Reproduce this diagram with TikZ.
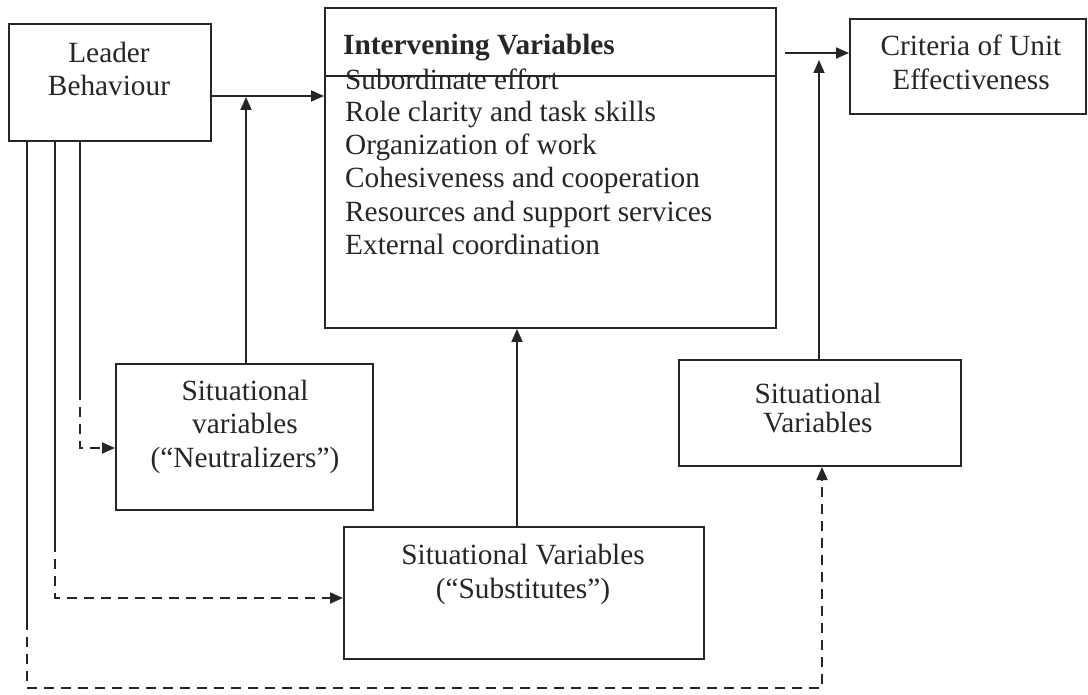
\documentclass[tikz,border=0pt]{standalone}
\usepackage{fontspec}
\setmainfont{Liberation Serif}
\usetikzlibrary{arrows.meta}
\definecolor{ink}{gray}{0.15}
\begin{document}
\begin{tikzpicture}[x=1pt,y=-1pt,
  box/.style={draw=ink, line width=2pt, inner sep=0pt, anchor=north west},
  lbl/.style={text=ink, inner sep=0pt, anchor=base, font=\fontsize{29.3}{33}\selectfont},
  lbll/.style={lbl, anchor=base west},
  conn/.style={draw=ink, line width=1.8pt},
  arr/.style={conn, -{Triangle[length=13pt,width=11pt]}},
  dsh/.style={dash pattern=on 10pt off 7pt}]
\useasboundingbox[fill=white] (0,0) rectangle (1088,695);

% boxes
\node[box, minimum width=202, minimum height=117] (leader) at (8,23) {};
\node[box, minimum width=451, minimum height=320] (interv) at (324,7) {};
\node[box, minimum width=236, minimum height=95] (crit) at (849,18) {};
\node[box, minimum width=257, minimum height=146] (neut) at (115,363) {};
\node[box, minimum width=360, minimum height=132] (sub) at (343,526) {};
\node[box, minimum width=282, minimum height=106] (rsit) at (678,359) {};

% texts
\node[lbl] (leaderA) at (109,63) {Leader};
\node[lbl] (leaderB) at (109,96) {Behaviour};
\node[lbl] (critA) at (971,56) {Criteria of Unit};
\node[lbl] (critB) at (971,90) {Effectiveness};
\node[lbl] (neutA) at (245,400) {Situational};
\node[lbl] (neutB) at (245,433) {variables};
\node[lbl] (neutC) at (245,467) {(“Neutralizers”)};
\node[lbl] (subA) at (523,564) {Situational Variables};
\node[lbl] (subB) at (523,598) {(“Substitutes”)};
\node[lbl] (rsitA) at (818,403) {Situational};
\node[lbl] (rsitB) at (818,432) {Variables};

\node[lbll, font=\fontsize{29.3}{33}\selectfont\bfseries] (iv0) at (343,55) {Intervening Variables};
\node[lbll] (iv1) at (345,90) {Subordinate effort};
\node[lbll] (iv2) at (345,122) {Role clarity and task skills};
\node[lbll] (iv3) at (345,155) {Organization of work};
\node[lbll] (iv4) at (345,188) {Cohesiveness and cooperation};
\node[lbll] (iv5) at (345,222) {Resources and support services};
\node[lbll] (iv6) at (345,255) {External coordination};

% header rule in intervening box
\coordinate (hy) at (0,76);
\draw[conn] (interv.west |- hy) -- (interv.east |- hy);

% solid arrows
\coordinate (ly) at (0,96);
\draw[arr] (leader.east |- ly) -- (interv.west |- ly);
\coordinate (nu) at (246,97);
\draw[arr] (neut.north -| nu) -- (nu);
\coordinate (su) at (517,0);
\draw[arr] (sub.north -| su) -- (interv.south -| su);
\coordinate (cy) at (785,53);
\draw[arr] (cy) -- (crit.west |- cy);
\coordinate (ru) at (819,60);
\draw[arr] (rsit.north -| ru) -- (ru);

% lines from leader behaviour
\coordinate (l1) at (27,620);
\coordinate (l1b) at (27,688);
\coordinate (rb) at (822,0);
\draw[conn] (leader.south -| l1) -- (l1);
\draw[arr, dsh] (l1) -- (l1b) -| (rsit.south -| rb);

\coordinate (l2) at (55,542);
\coordinate (l2b) at (55,598);
\draw[conn] (leader.south -| l2) -- (l2);
\draw[arr, dsh] (l2) -- (l2b) -- (sub.west |- l2b);

\coordinate (l3) at (80,390);
\coordinate (l3b) at (80,448);
\draw[conn] (leader.south -| l3) -- (l3);
\draw[arr, dsh] (l3) -- (l3b) -- (neut.west |- l3b);
\end{tikzpicture}
\end{document}
